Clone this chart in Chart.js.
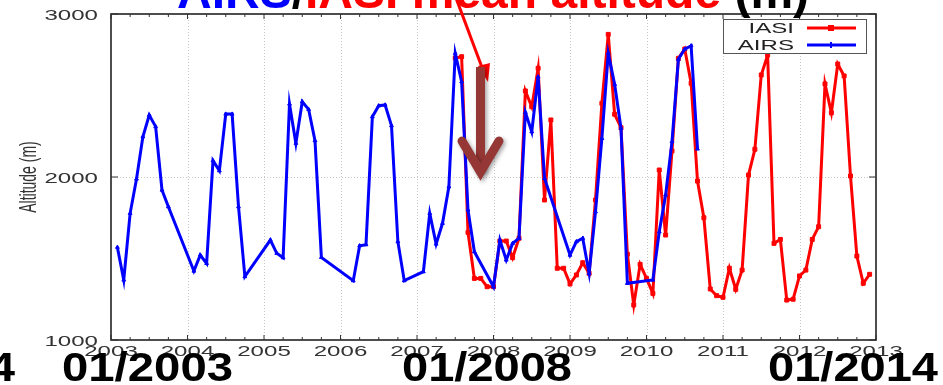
<!DOCTYPE html>
<html>
<head>
<meta charset="utf-8">
<title>AIRS / IASI mean altitude</title>
<script src="https://cdn.jsdelivr.net/npm/chart.js@4.4.1/dist/chart.umd.min.js"></script>
<style>
    html, body { margin: 0; padding: 0; background: #ffffff; }
    #wrap { width: 943px; height: 385px; position: relative; overflow: hidden; }
</style>
</head>
<body>
<div id="wrap"><canvas id="chart" width="943" height="385"></canvas></div>
<script>
// x values are months counted from January 2003 (0 = 01/2003)
const airsMonths = [1, 2, 3, 4, 5, 6, 7, 8, 9, 13, 14, 15, 16, 17, 18, 19, 20, 21,
    25, 26, 27, 28, 29, 30, 31, 32, 33, 38, 39, 40, 41, 42, 43, 44, 45, 46,
    49, 50, 51, 52, 53, 54, 55, 56, 57, 60, 61, 62, 63, 64, 65, 66, 67, 68,
    72, 73, 74, 75, 76, 77, 78, 79, 80, 81, 85, 86, 87, 88, 89, 90, 91, 92];
const airsAltitude = [1569, 1368, 1777, 1988, 2247, 2380, 2309, 1920, 1818, 1423, 1521, 1470, 2100, 2039, 2386, 2386, 1818, 1389,
    1613, 1532, 1505, 2448, 2207, 2462, 2415, 2223, 1507, 1364, 1578, 1585, 2370, 2437, 2442, 2315, 1603, 1364,
    1419, 1777, 1589, 1716, 1940, 2759, 2585, 1798, 1542, 1327, 1613, 1491, 1593, 1624, 2397, 2278, 2615, 1992,
    1521, 1603, 1624, 1409, 1787, 2237, 2759, 2569, 2299, 1348, 1368, 1664, 1890, 2217, 2722, 2785, 2805, 2172];

const iasiMonths = [54, 55, 56, 57, 58, 59, 60, 61, 62, 63, 64, 65, 66, 67, 68, 69, 70, 71, 72, 73, 74, 75,
    76, 77, 78, 79, 80, 81, 82, 83, 84, 85, 86, 87, 88, 89, 90, 91, 92, 93, 94, 95, 96, 97,
    98, 99, 100, 101, 102, 103, 104, 105, 106, 107, 108, 109, 110, 111, 112, 113, 114, 115, 116, 117, 118, 119];
const iasiAltitude = [2730, 2738, 1660, 1378, 1378, 1327, 1327, 1607, 1607, 1505, 1624, 2528, 2431, 2667, 1859, 2350, 1440, 1440, 1344, 1399, 1474, 1409,
    1859, 2452, 2875, 2385, 2303, 1526, 1215, 1464, 1378, 1286, 2043, 1644, 2160, 2728, 2785, 2575, 1975, 1750, 1313, 1272, 1262, 1440,
    1311, 1429, 2012, 2170, 2626, 2748, 1593, 1617, 1245, 1250, 1393, 1429, 1617, 1695, 2571, 2394, 2693, 2620, 2006, 1515, 1348, 1403];

const yearLabels = ['2003', '2004', '2005', '2006', '2007', '2008', '2009', '2010', '2011', '2012', '2013'];
const altitudeTicks = [1000, 2000, 3000];
const dateLabels = ['01/2003', '01/2008', '01/2014'];

const TICK_FONT = '14px "Liberation Sans", Arial, sans-serif';
const TICK_STRETCH = 1.72;

/**
 * Draw text squeezed or stretched horizontally
 */
function drawStretched(ctx, text, x, y, sx, align) {
    ctx.save();
    ctx.translate(x, y);
    ctx.scale(sx, 1);
    ctx.textAlign = align;
    ctx.fillText(text, 0, 0);
    ctx.restore();
}

/**
 * Draw text so that it fills a given width
 */
function drawFitted(ctx, text, left, width, baseline) {
    const w = ctx.measureText(text).width;
    ctx.save();
    ctx.translate(left, baseline);
    ctx.scale(width / w, 1);
    ctx.textAlign = 'left';
    ctx.fillText(text, 0, 0);
    ctx.restore();
}

function toPoints(xs, ys) {
    return xs.map(function(x, i) { return { x: x, y: ys[i] }; });
}

const plotDecor = {
    id: 'plotDecor',

    beforeDatasetsDraw: function(chart) {
        const ctx = chart.ctx;
        const area = chart.chartArea;
        const xs = chart.scales.x;
        const ys = chart.scales.y;
        ctx.save();
        ctx.strokeStyle = '#c8c8c8';
        ctx.lineWidth = 1;
        ctx.setLineDash([1, 2]);
        yearLabels.forEach(function(label, i) {
            if (i === 0 || i === yearLabels.length - 1) return;
            const px = Math.round(xs.getPixelForValue(i * 12)) + 0.5;
            ctx.beginPath();
            ctx.moveTo(px, area.top);
            ctx.lineTo(px, area.bottom);
            ctx.stroke();
        });
        const gy = Math.round(ys.getPixelForValue(2000)) + 0.5;
        ctx.beginPath();
        ctx.moveTo(area.left, gy);
        ctx.lineTo(area.right, gy);
        ctx.stroke();
        ctx.restore();
    },

    afterDatasetsDraw: function(chart) {
        const ctx = chart.ctx;
        const area = chart.chartArea;
        const xs = chart.scales.x;
        const ys = chart.scales.y;
        ctx.save();

        // frame
        ctx.strokeStyle = '#222';
        ctx.lineWidth = 1.6;
        ctx.strokeRect(area.left, area.top, area.right - area.left, area.bottom - area.top);

        // ticks on x: majors at years, minors at quarters
        ctx.lineWidth = 1;
        ctx.strokeStyle = '#333';
        for (let m = 0; m <= 120; m += 3) {
            const px = xs.getPixelForValue(m);
            const len = (m % 12 === 0) ? 5 : 3;
            ctx.beginPath();
            ctx.moveTo(px, area.bottom);
            ctx.lineTo(px, area.bottom - len);
            ctx.moveTo(px, area.top);
            ctx.lineTo(px, area.top + len);
            ctx.stroke();
        }
        altitudeTicks.forEach(function(v) {
            const py = ys.getPixelForValue(v);
            ctx.beginPath();
            ctx.moveTo(area.left, py);
            ctx.lineTo(area.left + 7, py);
            ctx.moveTo(area.right, py);
            ctx.lineTo(area.right - 7, py);
            ctx.stroke();
        });

        // tick labels
        ctx.fillStyle = '#333';
        ctx.font = TICK_FONT;
        ctx.textBaseline = 'alphabetic';
        yearLabels.forEach(function(label, i) {
            drawStretched(ctx, label, xs.getPixelForValue(i * 12), area.bottom + 16, TICK_STRETCH, 'center');
        });
        altitudeTicks.forEach(function(v) {
            drawStretched(ctx, String(v), area.left - 13, ys.getPixelForValue(v) + 6, TICK_STRETCH, 'right');
        });

        // y axis title
        ctx.save();
        ctx.translate(36, (area.top + area.bottom) / 2);
        ctx.rotate(-Math.PI / 2);
        ctx.scale(1, 1.7);
        ctx.textAlign = 'center';
        ctx.fillText('Altitude (m)', 0, 0);
        ctx.restore();

        // legend
        const lx = 723, ly = 19, lw = 143, lh = 34;
        ctx.fillStyle = '#ffffff';
        ctx.fillRect(lx, ly, lw, lh);
        ctx.strokeStyle = '#555';
        ctx.lineWidth = 1;
        ctx.strokeRect(lx + 0.5, ly + 0.5, lw, lh);
        const entries = [
            { label: 'IASI', color: '#ff0000', y: 28, style: 'rect' },
            { label: 'AIRS', color: '#0000ff', y: 45, style: 'tick' }
        ];
        entries.forEach(function(e) {
            ctx.fillStyle = '#222';
            drawStretched(ctx, e.label, 794, e.y + 5, TICK_STRETCH, 'right');
            ctx.strokeStyle = e.color;
            ctx.lineWidth = 3;
            ctx.beginPath();
            ctx.moveTo(807, e.y);
            ctx.lineTo(856, e.y);
            ctx.stroke();
            ctx.fillStyle = e.color;
            if (e.style === 'rect') {
                ctx.fillRect(828, e.y - 3, 6, 6);
            } else {
                ctx.fillRect(830, e.y - 3, 2, 6);
            }
        });
        ctx.restore();
    },

    afterDraw: function(chart) {
        const ctx = chart.ctx;
        ctx.save();

        // title, mostly cut off at the top
        ctx.font = 'bold 48px "Liberation Sans", Arial, sans-serif';
        ctx.textAlign = 'left';
        const parts = [
            { t: 'AIRS', c: '#0000ff' },
            { t: '/', c: '#000000' },
            { t: 'IASI mean altitude', c: '#ff0000' },
            { t: ' (m)', c: '#000000' }
        ];
        let tx = 177;
        parts.forEach(function(p) {
            ctx.fillStyle = p.c;
            ctx.fillText(p.t, tx, 8);
            tx += ctx.measureText(p.t).width;
        });

        // thin red pointer
        ctx.strokeStyle = '#ff0000';
        ctx.fillStyle = '#ff0000';
        ctx.lineWidth = 3;
        ctx.beginPath();
        ctx.moveTo(456, -2);
        ctx.lineTo(483, 70);
        ctx.stroke();
        ctx.beginPath();
        ctx.moveTo(488, 82);
        ctx.lineTo(478, 66);
        ctx.lineTo(490, 63);
        ctx.closePath();
        ctx.fill();

        // thick brown arrow
        ctx.shadowColor = 'rgba(0, 0, 0, 0.35)';
        ctx.shadowBlur = 4;
        ctx.shadowOffsetX = 2;
        ctx.shadowOffsetY = 2;
        ctx.strokeStyle = '#953735';
        ctx.lineWidth = 9;
        ctx.lineCap = 'butt';
        ctx.beginPath();
        ctx.moveTo(480.5, 67);
        ctx.lineTo(480.5, 172);
        ctx.stroke();
        ctx.lineCap = 'round';
        ctx.lineJoin = 'miter';
        ctx.beginPath();
        ctx.moveTo(462, 141);
        ctx.lineTo(480.5, 172);
        ctx.lineTo(499, 141);
        ctx.stroke();
        ctx.shadowColor = 'transparent';

        // big date labels
        ctx.fillStyle = '#000000';
        ctx.font = 'bold 40px "Liberation Sans", Arial, sans-serif';
        drawFitted(ctx, '4', -11, 26, 381);
        drawFitted(ctx, dateLabels[0], 62, 171, 381);
        drawFitted(ctx, dateLabels[1], 402, 170, 381);
        drawFitted(ctx, dateLabels[2], 768, 170, 381);

        ctx.restore();
    }
};

const ctx = document.getElementById('chart').getContext('2d');
new Chart(ctx, {
    type: 'line',
    data: {
        datasets: [
            {
                label: 'AIRS',
                data: toPoints(airsMonths, airsAltitude),
                borderColor: '#0000ff',
                backgroundColor: '#0000ff',
                borderWidth: 3,
                pointStyle: 'triangle',
                pointRadius: 2.2,
                pointBorderWidth: 1,
                tension: 0,
                order: 0
            },
            {
                label: 'IASI',
                data: toPoints(iasiMonths, iasiAltitude),
                borderColor: '#ff0000',
                backgroundColor: '#ff0000',
                borderWidth: 3,
                pointStyle: 'rect',
                pointRadius: 2.8,
                pointBorderWidth: 1,
                tension: 0,
                order: 1
            }
        ]
    },
    options: {
        responsive: false,
        animation: false,
        devicePixelRatio: 1,
        layout: { padding: { left: 111, right: 67, top: 14, bottom: 45 } },
        plugins: {
            legend: { display: false },
            tooltip: { enabled: false }
        },
        scales: {
            x: { type: 'linear', min: 0, max: 120, display: false },
            y: { type: 'linear', min: 1000, max: 3000, display: false }
        }
    },
    plugins: [plotDecor]
});
</script>
</body>
</html>
